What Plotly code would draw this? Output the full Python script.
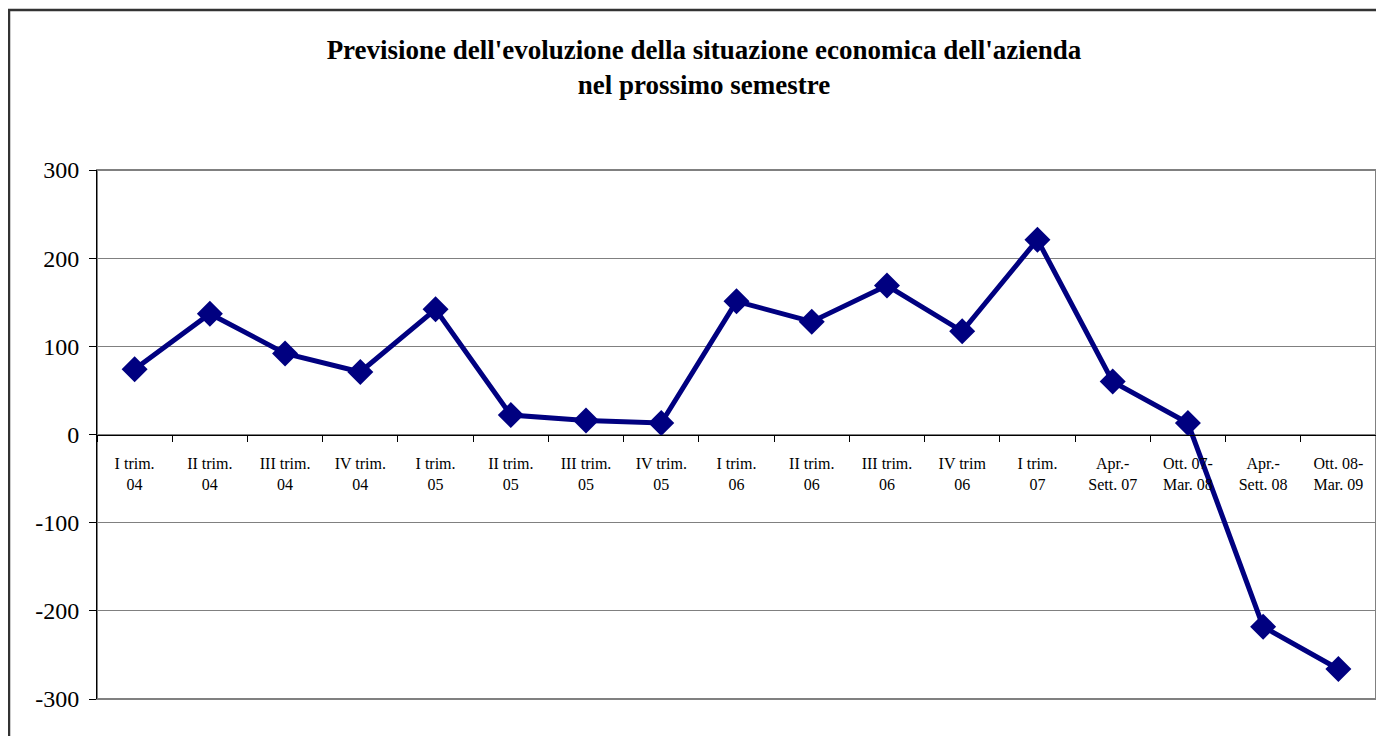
import plotly.graph_objects as go

categories = [
    "I trim.<br>04", "II trim.<br>04", "III trim.<br>04", "IV trim.<br>04",
    "I trim.<br>05", "II trim.<br>05", "III trim.<br>05", "IV trim.<br>05",
    "I trim.<br>06", "II trim.<br>06", "III trim.<br>06", "IV trim<br>06",
    "I trim.<br>07", "Apr.-<br>Sett. 07", "Ott. 07-<br>Mar. 08", "Apr.-<br>Sett. 08",
    "Ott. 08-<br>Mar. 09",
]
values = [74, 137, 92, 71, 142, 22, 16, 13, 151, 128, 169, 117, 221, 60, 13, -218, -266]
y_ticks = [300, 200, 100, 0, -100, -200, -300]
y_tick_text = ["300", "200", "100", "0", "-100", "-200", "-300"]

title_text = ("<b>Previsione dell'evoluzione della situazione economica dell'azienda"
              "<br>nel prossimo semestre</b>")

fig = go.Figure()
fig.add_trace(go.Scatter(
    x=categories, y=values, mode="lines+markers",
    line=dict(color="#000080", width=5),
    marker=dict(symbol="diamond", size=20, color="#000080"),
    showlegend=False, hoverinfo="x+y",
))

serif = "Liberation Serif, Times New Roman, serif"

fig.update_layout(
    width=1376, height=728,
    margin=dict(l=89, r=8, t=162, b=37),
    paper_bgcolor="white", plot_bgcolor="white",
    font=dict(family=serif, color="black"),
    title=dict(text=title_text, x=0.5058, xanchor="center",
               y=1 - 51 / 728, yanchor="top",
               font=dict(family=serif, size=27, color="black")),
    xaxis=dict(
        type="category", anchor="free", position=0.5,
        showline=True, linecolor="black", linewidth=1,
        ticks="outside", tickson="boundaries", ticklen=6, tickcolor="black",
        showgrid=False, zeroline=False,
        tickfont=dict(family=serif, size=16, color="black"),
        range=[-0.5, len(categories) - 0.5],
        ticklabelstandoff=14,
    ),
    yaxis=dict(
        range=[-300, 300], tickvals=y_ticks, ticktext=y_tick_text,
        showline=True, linecolor="black", linewidth=1,
        ticks="outside", ticklen=7, tickcolor="black",
        showgrid=True, gridcolor="#808080", gridwidth=1,
        zeroline=False, ticklabelstandoff=5,
        tickfont=dict(family=serif, size=24, color="black"),
    ),
    shapes=[
        dict(type="rect", xref="paper", yref="paper",
             x0=0, x1=1, y0=0, y1=1,
             line=dict(color="#808080", width=2), layer="below"),
        dict(type="rect", xref="paper", yref="paper",
             x0=-0.0688, x1=1.02, y0=-0.12, y1=1.3025,
             line=dict(color="#333333", width=2.5), layer="below"),
    ],
)

fig.write_html("out.html")
